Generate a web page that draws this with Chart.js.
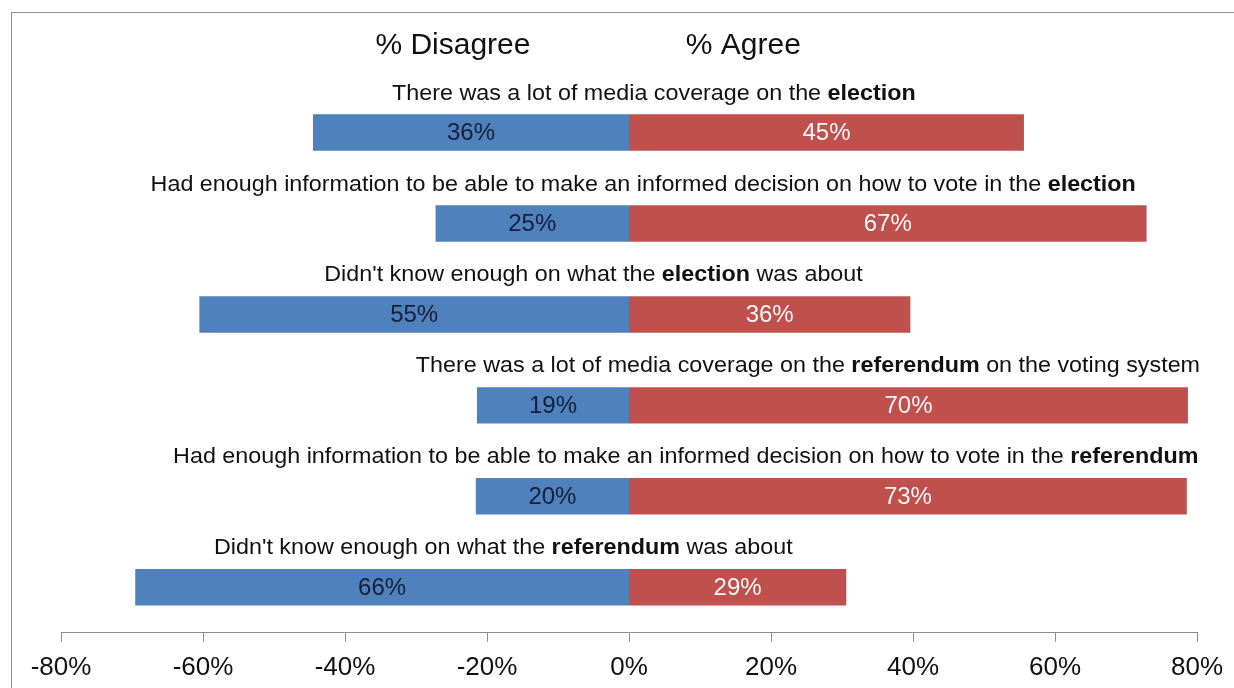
<!DOCTYPE html>
<html>
<head>
<meta charset="utf-8">
<title>Election and referendum survey</title>
<script src="https://cdn.jsdelivr.net/npm/chart.js@4/dist/chart.umd.min.js"></script>
<style>
  html, body { margin: 0; padding: 0; background: #fff; }
  #wrap { position: relative; width: 1234px; height: 688px; }
</style>
</head>
<body>
<div id="wrap"><canvas id="survey"></canvas></div>
<script>
// Statements (the word between ** is set in bold)
const statements = [
    'There was a lot of media coverage on the **election**',
    'Had enough information to be able to make an informed decision on how to vote in the **election**',
    'Didn\'t know enough on what the **election** was about',
    'There was a lot of media coverage on the **referendum** on the voting system',
    'Had enough information to be able to make an informed decision on how to vote in the **referendum**',
    'Didn\'t know enough on what the **referendum** was about'
];

// % of respondents
const disagree = [36, 25, 55, 19, 20, 66];
const agree = [45, 67, 36, 70, 73, 29];

// x axis ticks
const xTicks = [-80, -60, -40, -20, 0, 20, 40, 60, 80];

const FONT = '"Liberation Sans", Arial, sans-serif';

// bars show each side's share of the people who gave an opinion
const disagreeShare = disagree.map((d, i) => -d / (d + agree[i]) * 100);
const agreeShare = agree.map((a, i) => a / (a + disagree[i]) * 100);

// text with **bold** parts, centred on (cx, cy)
function drawRich(ctx, text, cx, cy, size, stretch) {
    const parts = text.split('**');
    const fonts = parts.map((p, i) => (i % 2 ? 'bold ' : '') + size + 'px ' + FONT);
    const widths = parts.map((p, i) => { ctx.font = fonts[i]; return ctx.measureText(p).width; });
    const total = widths.reduce((a, b) => a + b, 0);
    ctx.save();
    ctx.translate(cx, cy);
    ctx.scale(stretch, 1);
    ctx.textBaseline = 'middle';
    ctx.textAlign = 'left';
    let x = -total / 2;
    parts.forEach((p, i) => {
        ctx.font = fonts[i];
        ctx.fillText(p, x, 0);
        x += widths[i];
    });
    ctx.restore();
}

const frame = {
    id: 'frame',
    beforeDraw(chart) {
        const ctx = chart.ctx;
        ctx.save();
        ctx.fillStyle = '#fff';
        ctx.fillRect(0, 0, chart.width, chart.height);
        ctx.strokeStyle = '#8c8c8c';
        ctx.lineWidth = 1;
        ctx.strokeRect(11.5, 12.5, chart.width + 20, chart.height + 20);
        ctx.restore();
    }
};

const annotations = {
    id: 'annotations',
    afterDatasetsDraw(chart, args, opts) {
        const ctx = chart.ctx;
        const x = chart.scales.x;
        const y = chart.scales.y;

        // column headings
        ctx.save();
        ctx.fillStyle = '#111';
        ctx.font = '30px ' + FONT;
        ctx.textAlign = 'center';
        ctx.textBaseline = 'middle';
        ctx.fillText('% Disagree', x.getPixelForValue(opts.headingAt[0]), opts.headingY);
        ctx.fillText('% Agree', x.getPixelForValue(opts.headingAt[1]), opts.headingY);

        // statement above each bar
        ctx.fillStyle = '#111';
        statements.forEach((s, i) => {
            drawRich(ctx, s, x.getPixelForValue(opts.statementAt[i]),
                y.getPixelForValue(i) - opts.statementLift, 22, 1.06);
        });

        // value labels inside the bars
        ctx.font = '24px ' + FONT;
        ctx.textAlign = 'center';
        ctx.textBaseline = 'middle';
        [disagree, agree].forEach((values, d) => {
            ctx.fillStyle = d === 0 ? '#14203a' : '#f6f6f6';
            chart.getDatasetMeta(d).data.forEach((bar, i) => {
                ctx.fillText(values[i] + '%', (bar.x + bar.base) / 2, bar.y + 1);
            });
        });
        ctx.restore();
    }
};

new Chart(document.getElementById('survey'), {
    type: 'bar',
    data: {
        labels: statements.map(s => s.replace(/\*\*/g, '')),
        datasets: [{
            label: '% Disagree',
            data: disagreeShare,
            backgroundColor: '#4F81BD'
        }, {
            label: '% Agree',
            data: agreeShare,
            backgroundColor: '#C0504D'
        }]
    },
    options: {
        indexAxis: 'y',
        responsive: true,
        maintainAspectRatio: false,
        animation: false,
        datasets: {
            // slight inflate so the two halves meet without a gap at 0%
            bar: { categoryPercentage: 1, barPercentage: 0.39, inflateAmount: 0.5, borderWidth: 0 }
        },
        layout: {
            padding: { top: 87, left: 61, right: 37, bottom: -5 }
        },
        scales: {
            x: {
                stacked: true,
                min: -80,
                max: 80,
                afterBuildTicks: axis => { axis.ticks = xTicks.map(v => ({ value: v })); },
                ticks: {
                    callback: v => v + '%',
                    color: '#111',
                    font: { size: 26, family: FONT },
                    padding: 10,
                    maxRotation: 0
                },
                grid: {
                    drawOnChartArea: false,
                    drawTicks: true,
                    tickLength: 9,
                    color: '#8c8c8c'
                },
                border: { display: true, color: '#8c8c8c' }
            },
            y: {
                stacked: true,
                display: false
            }
        },
        plugins: {
            legend: { display: false },
            tooltip: { enabled: false },
            annotations: {
                headingAt: [-24.8, 16.1],
                headingY: 46,
                statementAt: [3.5, 2.0, -5.0, 25.2, 8.0, -17.7],
                statementLift: 39
            }
        }
    },
    plugins: [frame, annotations]
});
</script>
</body>
</html>
